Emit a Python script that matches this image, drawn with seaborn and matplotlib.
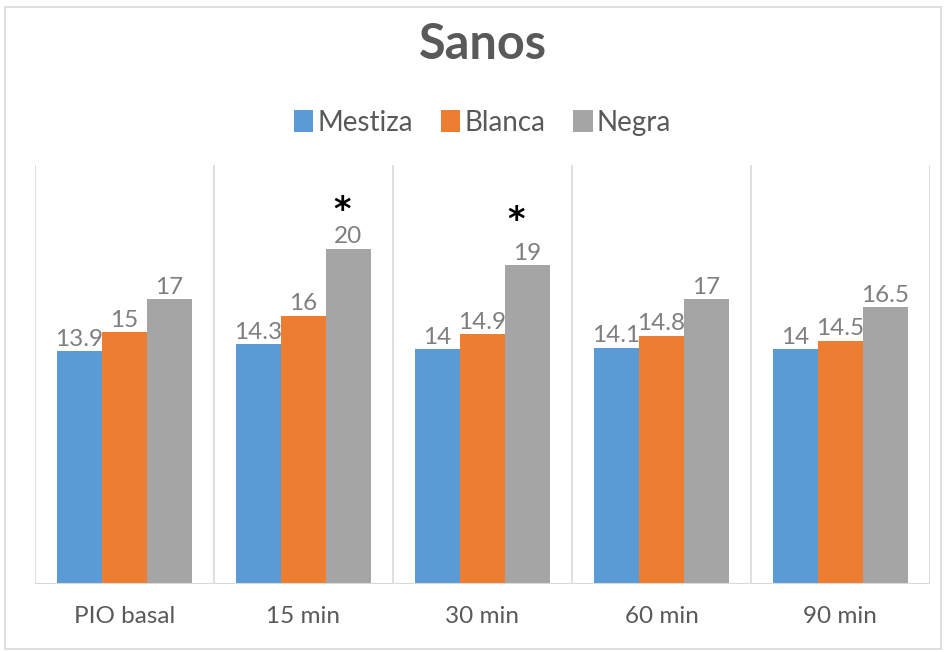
import matplotlib
matplotlib.use("Agg")
import matplotlib.pyplot as plt
import seaborn as sns
import pandas as pd
from matplotlib.patches import Patch, Rectangle

categories = ["PIO basal", "15 min", "30 min", "60 min", "90 min"]
groups = ["Mestiza", "Blanca", "Negra"]
mestiza = [13.9, 14.3, 14, 14.1, 14]
blanca = [15, 16, 14.9, 14.8, 14.5]
negra = [17, 20, 19, 17, 16.5]
significant = ["15 min", "30 min"]  # Negra bars marked with *

colors = ["#5B9BD5", "#ED7D31", "#A5A5A5"]

df = pd.DataFrame({
    "tiempo": categories * 3,
    "grupo": [g for g in groups for _ in categories],
    "valor": mestiza + blanca + negra,
})

sns.set_theme(style="white")
plt.rcParams["font.family"] = ["Lato", "DejaVu Sans"]

fig = plt.figure(figsize=(9.46, 6.52), dpi=100)
ax = fig.add_axes([0.037, 0.1043, 0.946, 0.643])

sns.barplot(data=df, x="tiempo", y="valor", hue="grupo", order=categories,
            hue_order=groups, palette=colors, width=0.754, gap=0,
            saturation=1, ax=ax, legend=False, errorbar=None)

for cont in ax.containers:
    for p in cont:
        p.set_edgecolor("none")
    ax.bar_label(cont, labels=[f"{v:g}" for v in cont.datavalues],
                 padding=1, fontsize=17.5, color="#7F7F7F")

# asterisks over the Negra bars that differ significantly
star_offsets = {"15 min": (-4.5, 20.5), "30 min": (-8.5, 25.5)}  # points
negra_bars = ax.containers[2]
for cat, bar, val in zip(categories, negra_bars, negra):
    if cat in significant:
        dx, dy = star_offsets[cat]
        ax.annotate("*", xy=(bar.get_x() + bar.get_width() / 2, val),
                    xytext=(dx, dy), textcoords="offset points",
                    ha="center", va="baseline", fontsize=24,
                    fontweight="bold", color="black", family="DejaVu Sans")

ax.set_ylim(0, 25)
ax.set_xlim(-0.5, len(categories) - 0.5)
for xb in [i - 0.5 for i in range(len(categories) + 1)]:
    ax.axvline(xb, color="#D9D9D9", lw=1.2, zorder=0)
ax.axhline(0, color="#D9D9D9", lw=1.5, zorder=3)

ax.set_yticks([])
ax.set_xlabel("")
ax.set_ylabel("")
ax.tick_params(axis="x", length=0, pad=16, labelsize=17.5, labelcolor="#595959")
for s in ax.spines.values():
    s.set_visible(False)

fig.text(0.51, 0.931, "Sanos", ha="center", va="center", fontsize=35,
         fontweight="bold", color="#595959")

handles = [Patch(facecolor=c, edgecolor="none") for c in colors]
fig.legend(handles, groups, loc="center", bbox_to_anchor=(0.51, 0.812),
           ncol=3, frameon=False, fontsize=20, handlelength=0.7,
           handleheight=0.8, handletextpad=0.15, columnspacing=1.0,
           labelcolor="#595959")

# thin frame around the chart area
fig.patches.append(Rectangle((0.005, 0.005), 0.99, 0.985, transform=fig.transFigure,
                             fill=False, edgecolor="#D9D9D9", lw=1.2))

fig.savefig("out.png", dpi=100)
